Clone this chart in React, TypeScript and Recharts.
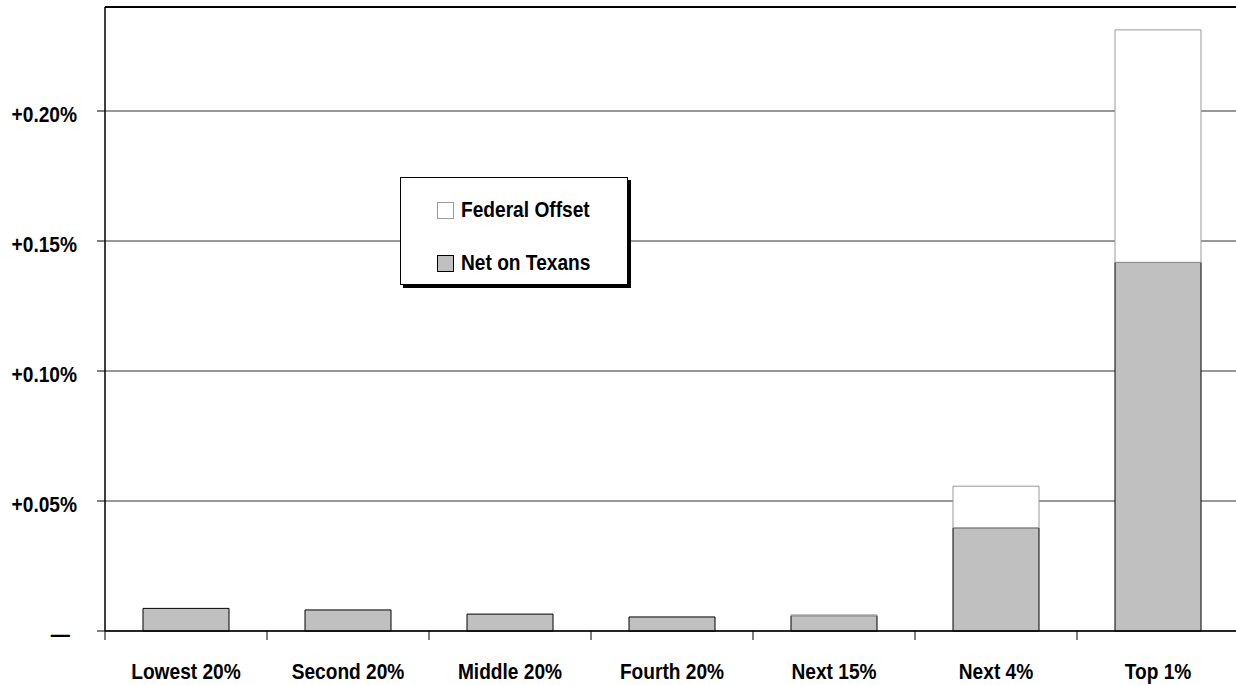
import React from "react"
import { BarChart, Bar, XAxis, YAxis, CartesianGrid, ReferenceLine, Legend } from "recharts"

// values in percentage points
const categories = ["Lowest 20%", "Second 20%", "Middle 20%", "Fourth 20%", "Next 15%", "Next 4%", "Top 1%"]
const netOnTexans = [0.0087, 0.0081, 0.0065, 0.0054, 0.0059, 0.0397, 0.1418]
const federalOffset = [0, 0, 0, 0, 0.0003, 0.016, 0.0894]
const yTicks = [0, 0.05, 0.1, 0.15, 0.2]

const data = categories.map((group, i) => ({
  group,
  net: netOnTexans[i],
  offset: federalOffset[i],
}))

const FONT = '"Liberation Sans", Arial, sans-serif'
const SQUEEZE = 0.87
const labelStyle = { fontFamily: FONT, fontWeight: 700, fontSize: 22, fill: "#000" }

const formatPct = (v: number) => (v === 0 ? "—" : `+${v.toFixed(2)}%`)

// narrow bold text: squeeze horizontally around the anchor point
function NarrowText({ x, y, anchor, dy, children }: any) {
  return (
    <text transform={`translate(${x},${y}) scale(${SQUEEZE},1)`} dy={dy} textAnchor={anchor} style={labelStyle}>
      {children}
    </text>
  )
}

function ValueTick(props: any) {
  const { x, y, payload } = props
  const isZero = payload.value === 0
  return (
    <NarrowText x={isZero ? x - 7 : x} y={y + 3} dy="0.355em" anchor="end">
      {formatPct(payload.value)}
    </NarrowText>
  )
}

function GroupTick(props: any) {
  const { x, y, payload, index, width } = props
  const band = width / categories.length
  const axisY = y - 10
  const last = index === categories.length - 1
  return (
    <g>
      <line x1={x - band / 2} x2={x - band / 2} y1={axisY} y2={axisY + 9} stroke="#000" />
      {last && <line x1={x + band / 2} x2={x + band / 2} y1={axisY} y2={axisY + 9} stroke="#000" />}
      <NarrowText x={x} y={axisY + 48} anchor="middle">
        {payload.value}
      </NarrowText>
    </g>
  )
}

function LegendBox() {
  const items = [
    { name: "Federal Offset", fill: "#ffffff", stroke: "#999999" },
    { name: "Net on Texans", fill: "#c0c0c0", stroke: "#000000" },
  ]
  return (
    <div
      style={{
        width: 228,
        height: 108,
        background: "#fff",
        border: "1px solid #000",
        boxShadow: "3px 3px 0 #000",
        boxSizing: "border-box",
        paddingTop: 19,
        paddingLeft: 36,
      }}
    >
      {items.map((it, i) => (
        <div
          key={it.name}
          style={{ display: "flex", alignItems: "center", height: 26, marginBottom: i === 0 ? 27 : 0 }}
        >
          <span
            style={{
              width: 15,
              height: 15,
              background: it.fill,
              border: `1px solid ${it.stroke}`,
              display: "inline-block",
              marginRight: 7,
              flexShrink: 0,
            }}
          />
          <span
            style={{
              fontFamily: FONT,
              fontWeight: 700,
              fontSize: 22,
              color: "#000",
              display: "inline-block",
              whiteSpace: "nowrap",
              transform: `scaleX(${SQUEEZE})`,
              transformOrigin: "left center",
            }}
          >
            {it.name}
          </span>
        </div>
      ))}
    </div>
  )
}

export default function App() {
  return (
    <div style={{ position: "absolute", left: 0, top: 0, width: 1236, height: 685, overflow: "hidden", background: "#fff" }}>
      <BarChart
        width={1245}
        height={685}
        data={data}
        margin={{ top: 7, right: 6, left: 0, bottom: 0 }}
        barCategoryGap={38}
      >
        <CartesianGrid horizontal vertical={false} stroke="#333" strokeWidth={1} />
        <XAxis
          dataKey="group"
          height={54}
          axisLine={{ stroke: "#000", strokeWidth: 1.5 }}
          tickLine={false}
          tickSize={8}
          tickMargin={2}
          tick={<GroupTick />}
          interval={0}
        />
        <YAxis
          width={105}
          domain={[0, 0.24]}
          ticks={yTicks}
          axisLine={{ stroke: "#000", strokeWidth: 1.5 }}
          tickLine={{ stroke: "#000" }}
          tickSize={8}
          tickMargin={20}
          tick={<ValueTick />}
        />
        <ReferenceLine y={0.24} stroke="#000" strokeWidth={2} />
        <Legend
          layout="vertical"
          align="center"
          verticalAlign="middle"
          content={() => <LegendBox />}
          wrapperStyle={{ left: 400, top: 177, width: 232, height: 112 }}
        />
        <Bar dataKey="net" name="Net on Texans" stackId="a" fill="#c0c0c0" stroke="#000" strokeWidth={1} isAnimationActive={false} />
        <Bar dataKey="offset" name="Federal Offset" stackId="a" fill="#fff" stroke="#999" strokeWidth={1} isAnimationActive={false} />
      </BarChart>
    </div>
  )
}
